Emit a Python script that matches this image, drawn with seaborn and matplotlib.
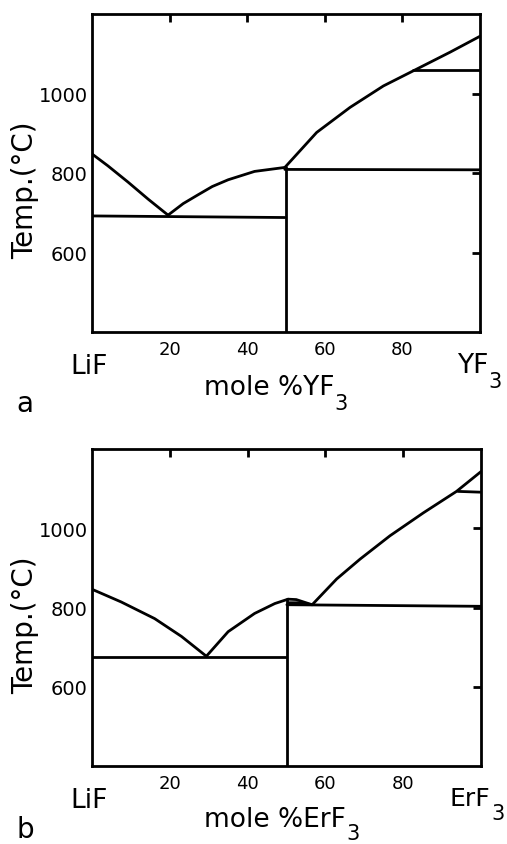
import matplotlib
matplotlib.use("Agg")
import matplotlib.pyplot as plt
import pandas as pd
import seaborn as sns

# ---------------- LiF - YF3 system (panel a) ----------------
a_lif_liq_x = [0, 4.1, 9.3, 14.5, 19.6]
a_lif_liq_t = [848, 818, 777, 734, 694]
a_eut_x = [0, 49.7]
a_eut_t = [692, 688]
a_mid_liq_x = [19.6, 23.5, 27.3, 31.0, 35.1, 41.9, 49.7]
a_mid_liq_t = [694, 723, 745, 766, 783, 804, 814]
a_comp_x = [50, 50]
a_comp_t = [814, 400]
a_perit_x = [49.7, 100]
a_perit_t = [809, 808]
a_yf3_liq_x = [49.7, 57.9, 66.5, 75.1, 82.8, 92.3, 100]
a_yf3_liq_t = [814, 902, 965, 1019, 1057, 1104, 1144]
a_trans_x = [82.8, 100]
a_trans_t = [1060, 1060]

# ---------------- LiF - ErF3 system (panel b) ----------------
b_lif_liq_x = [0, 7.5, 16.1, 23, 29.4]
b_lif_liq_t = [846, 814, 772, 727, 677]
b_eut_x = [0, 49.8]
b_eut_t = [674, 674]
b_mid_liq_x = [29.4, 35, 41.8, 47, 50.4]
b_mid_liq_t = [677, 739, 785, 810, 821]
b_hump_x = [50.4, 52.5, 55, 56.6]
b_hump_t = [821, 820, 812, 807]
b_lens_x = [50.4, 53, 56.6]
b_lens_t = [812, 812, 807]
b_comp_x = [50.1, 50.1]
b_comp_t = [822, 400]
b_perit_x = [50.1, 100]
b_perit_t = [807, 803]
b_erf3_liq_x = [56.6, 62.9, 68.9, 76.6, 85.2, 93.7, 100]
b_erf3_liq_t = [807, 872, 922, 981, 1039, 1093, 1143]
b_trans_x = [94.1, 100]
b_trans_t = [1093, 1091]

x_ticks = [20, 40, 60, 80]
y_ticks = [600, 800, 1000]

segments_a = {
    "lif_liquidus": (a_lif_liq_x, a_lif_liq_t),
    "eutectic": (a_eut_x, a_eut_t),
    "mid_liquidus": (a_mid_liq_x, a_mid_liq_t),
    "compound": (a_comp_x, a_comp_t),
    "peritectic": (a_perit_x, a_perit_t),
    "yf3_liquidus": (a_yf3_liq_x, a_yf3_liq_t),
    "transition": (a_trans_x, a_trans_t),
}
segments_b = {
    "lif_liquidus": (b_lif_liq_x, b_lif_liq_t),
    "eutectic": (b_eut_x, b_eut_t),
    "mid_liquidus": (b_mid_liq_x, b_mid_liq_t),
    "hump": (b_hump_x, b_hump_t),
    "lens": (b_lens_x, b_lens_t),
    "compound": (b_comp_x, b_comp_t),
    "peritectic": (b_perit_x, b_perit_t),
    "erf3_liquidus": (b_erf3_liq_x, b_erf3_liq_t),
    "transition": (b_trans_x, b_trans_t),
}


def to_frame(segments):
    rows = []
    for name, (xs, ts) in segments.items():
        for order, (x, t) in enumerate(zip(xs, ts)):
            rows.append({"x": x, "T": t, "seg": name, "order": order})
    return pd.DataFrame(rows)


sns.set_style("white")
plt.rcParams["font.family"] = ["DejaVu Sans"]
plt.rcParams["text.color"] = "black"
plt.rcParams["xtick.color"] = "black"
plt.rcParams["ytick.color"] = "black"
plt.rcParams["axes.labelcolor"] = "black"

fig = plt.figure(figsize=(5.07, 8.45), dpi=100)
ax_a = fig.add_axes([92 / 507, 1 - 333 / 845, 388 / 507, 318 / 845])
ax_b = fig.add_axes([92 / 507, 1 - 767 / 845, 389 / 507, 317 / 845])


def formula(ax, x, y, base, size, sub_size, sub_dy):
    """Chemical formula with a low-set subscript '3'."""
    main = ax.text(x, y, base, transform=ax.transAxes, fontsize=size,
                   ha="left", va="top")
    ax.annotate("3", xy=(1, 0), xycoords=main, xytext=(0.3, sub_dy),
                textcoords="offset points", fontsize=sub_size,
                ha="left", va="top")
    return main


def draw_panel(ax, segments, compound, letter, ylab_y, cfg):
    df = to_frame(segments)
    sns.lineplot(data=df, x="x", y="T", units="seg", estimator=None,
                 sort=False, color="black", linewidth=2.0, ax=ax,
                 legend=False)
    ax.set_xlim(0, 100)
    ax.set_ylim(400, 1200)
    ax.set_xticks(x_ticks)
    ax.set_yticks(y_ticks)
    ax.set_xlabel("")
    ax.set_ylabel("")
    ax.tick_params(axis="both", direction="in", top=True, right=True,
                   length=6, width=2, color="black", labelcolor="black")
    ax.tick_params(axis="x", labelsize=13, pad=6)
    ax.tick_params(axis="y", labelsize=14, pad=3)
    for sp in ax.spines.values():
        sp.set_visible(True)
        sp.set_linewidth(2)
        sp.set_color("black")

    ax.text(-0.055, -0.066, "LiF", transform=ax.transAxes, fontsize=19,
            ha="left", va="top")
    formula(ax, cfg["end_x"], -0.064, compound, cfg["end_size"], 15, 5.5)
    formula(ax, 0.288, cfg["xlab_y"], "mole %" + compound, 19, 15,
            cfg["xlab_sub_dy"])
    ax.text(-0.172, ylab_y, "Temp.(°C)", transform=ax.transAxes,
            fontsize=20, rotation=90, ha="center", va="center")
    ax.text(-0.195, cfg["letter_y"], letter, transform=ax.transAxes,
            fontsize=20, ha="left", va="baseline")


draw_panel(ax_a, segments_a, "YF", "a", 0.45,
           {"end_x": 0.94, "end_size": 19, "letter_y": -0.25,
            "xlab_y": -0.133, "xlab_sub_dy": 5.5})
draw_panel(ax_b, segments_b, "ErF", "b", 0.448,
           {"end_x": 0.92, "end_size": 18, "letter_y": -0.225,
            "xlab_y": -0.126, "xlab_sub_dy": 6.5})

fig.savefig("out.png", dpi=100, facecolor="white")
